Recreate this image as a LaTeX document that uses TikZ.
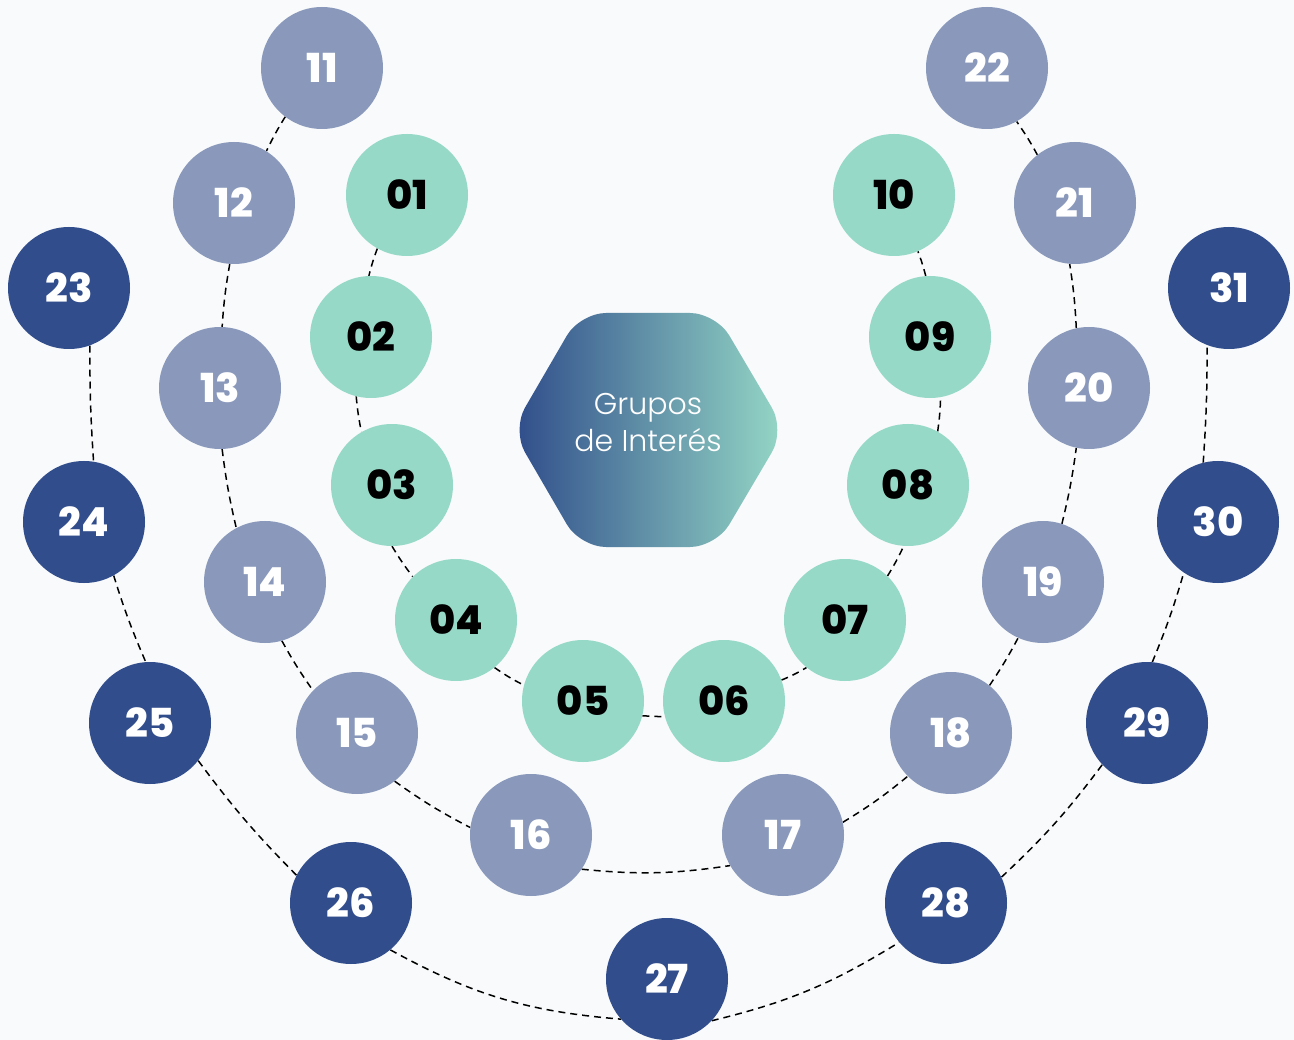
\documentclass[tikz,border=0pt]{standalone}
\usepackage{fontspec}
\setmainfont{Poppins}
\newfontfamily\numfont{Poppins ExtraBold}
\newfontfamily\hubfont{Poppins Light}
\definecolor{bgc}{HTML}{F8FAFB}
\definecolor{mint}{HTML}{97D9C7}
\definecolor{slate}{HTML}{8A99BB}
\definecolor{navy}{HTML}{314D8C}
\definecolor{hexl}{HTML}{2F4C8A}
\definecolor{hexr}{HTML}{95D8C6}
\pgfdeclarelayer{lines}
\pgfsetlayers{lines,main}
\tikzset{
  ball/.style={circle,minimum size=122pt,inner sep=0pt,font=\numfont\fontsize{40}{42}\selectfont},
  inner/.style={ball,fill=mint,text=black},
  middle/.style={ball,fill=slate,text=white},
  outer/.style={ball,fill=navy,text=white},
  conn/.style={draw=black,line width=1.5pt,dash pattern=on 7pt off 5pt},
}
\begin{document}
\begin{tikzpicture}[x=1pt,y=-1pt]
\useasboundingbox (0,0) rectangle (1294,1040);
% hexagon
\shade[left color=hexl,right color=hexr,rounded corners=26pt]
  (512,430) -- (580,313) -- (716,313) -- (785,430) -- (716,547) -- (580,547) -- cycle;
\node[text=white,align=center,font=\hubfont\fontsize{30}{37}\selectfont] (hub) at (648,423) {Grupos\\de Interés};
% inner ring
\node[inner] (n01) at (407,195) {01};
\node[inner] (n02) at (371,337) {02};
\node[inner] (n03) at (392,485) {03};
\node[inner] (n04) at (456,620) {04};
\node[inner] (n05) at (583,701) {05};
\node[inner] (n06) at (724,701) {06};
\node[inner] (n07) at (845,620) {07};
\node[inner] (n08) at (908,485) {08};
\node[inner] (n09) at (930,337) {09};
\node[inner] (n10) at (894,195) {10};
% middle ring
\node[middle] (n11) at (322,68) {11};
\node[middle] (n12) at (234,203) {12};
\node[middle] (n13) at (220,388) {13};
\node[middle] (n14) at (265,582) {14};
\node[middle] (n15) at (357,733) {15};
\node[middle] (n16) at (531,835) {16};
\node[middle] (n17) at (783,835) {17};
\node[middle] (n18) at (951,733) {18};
\node[middle] (n19) at (1043,582) {19};
\node[middle] (n20) at (1089,388) {20};
\node[middle] (n21) at (1075,203) {21};
\node[middle] (n22) at (987,68) {22};
% outer ring
\node[outer] (n23) at (69,288) {23};
\node[outer] (n24) at (84,522) {24};
\node[outer] (n25) at (150,723) {25};
\node[outer] (n26) at (351,903) {26};
\node[outer] (n27) at (667,979) {27};
\node[outer] (n28) at (946,903) {28};
\node[outer] (n29) at (1147,723) {29};
\node[outer] (n30) at (1218,522) {30};
\node[outer] (n31) at (1229,288) {31};
\begin{pgfonlayer}{lines}
\fill[bgc] (0,0) rectangle (1294,1040);
\foreach \a/\aa/\b/\bb/\c in {
  n01/-119/n02/92/3, n02/-104/n03/120/3, n03/-90/n04/135/3, n04/-51/n05/165/4,
  n05/-14/n06/-165/0, n06/20/n07/-129/4, n07/46/n08/-94/3, n08/61/n09/-80/3,
  n09/94/n10/-67/3,
  n11/-127/n12/58/3, n12/-94/n13/88/3, n13/-88/n14/118/3, n14/-74/n15/136/3,
  n15/-52/n16/173/4, n16/-34/n17/-150/7, n17/12/n18/-135/4, n18/51/n19/-114/3,
  n19/72/n20/-102/3, n20/102/n21/-95/3, n21/128/n22/-61/3,
  n23/-70/n24/81/2, n24/-61/n25/94/3, n25/-38/n26/153/4, n26/-50/n27/-139/12,
  n27/-43/n28/-140/9, n28/25/n29/-137/5, n29/85/n30/-124/3, n30/104/n31/-111/2}
  \draw[conn] (\a.\aa) to[bend right=\c] (\b.\bb);
\end{pgfonlayer}
\end{tikzpicture}
\end{document}
